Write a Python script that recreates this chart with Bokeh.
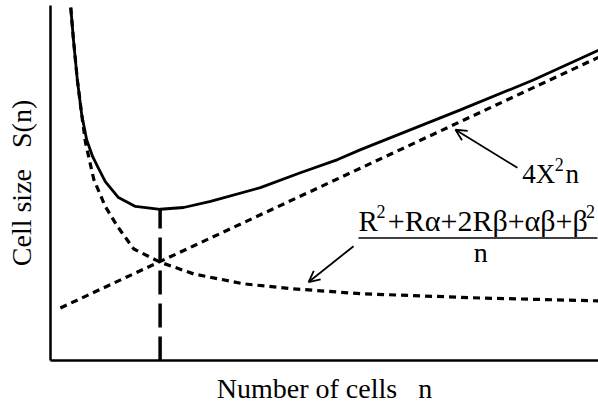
from bokeh.plotting import figure
from bokeh.models import Range1d, FixedTicker, Label, Arrow, OpenHead
from bokeh.embed import file_html
from bokeh.resources import INLINE

# Number of cells n (arbitrary units) and the three cell-size curves
n_total = [0.37, 0.42, 0.49, 0.57, 0.66, 0.77, 0.86, 1.00, 1.24, 1.55, 2.00,
           2.43, 2.92, 3.83, 4.56, 5.24, 5.66, 7.48, 8.81, 10.0]
s_total = [9.94, 9.02, 7.90, 6.92, 6.22, 5.74, 5.46, 5.04, 4.59, 4.34, 4.26,
           4.31, 4.48, 4.87, 5.29, 5.66, 5.94, 7.06, 7.90, 8.74]

n_linear = [0.18, 10.0]
s_linear = [1.48, 8.54]

n_inverse = [0.37, 0.42, 0.49, 0.57, 0.64, 0.79, 1.00, 1.22, 1.52, 2.00, 2.61,
             3.52, 4.43, 5.66, 7.85, 10.0]
s_inverse = [9.94, 9.02, 7.90, 6.92, 6.13, 5.10, 4.34, 3.78, 3.14, 2.77, 2.44,
             2.16, 2.02, 1.88, 1.76, 1.68]

# optimum: minimum of the total curve
i_min = s_total.index(min(s_total))
n_opt, s_opt = n_total[i_min], s_total[i_min]

SERIF = "Liberation Serif"

p = figure(width=598, height=406, x_range=Range1d(0, 10), y_range=Range1d(0, 10),
           output_backend="svg", toolbar_location=None,
           min_border_left=50, min_border_right=0, min_border_top=5,
           min_border_bottom=44)
p.outline_line_color = None
p.xgrid.visible = False
p.ygrid.visible = False
p.background_fill_color = "white"
p.border_fill_color = "white"

for ax in (p.xaxis[0], p.yaxis[0]):
    ax.ticker = FixedTicker(ticks=[])
    ax.major_tick_line_color = None
    ax.minor_tick_line_color = None
    ax.axis_line_width = 2.5
    ax.axis_line_color = "black"
    ax.axis_label_text_font = SERIF
    ax.axis_label_text_font_size = "28px"
    ax.axis_label_text_font_style = "normal"
    ax.axis_label_text_color = "black"

p.xaxis.axis_label = "Number of cells\u00a0\u00a0\u00a0n"
p.yaxis.axis_label = "Cell size\u00a0\u00a0\u00a0S(n)"
p.xaxis.axis_label_standoff = 12
p.yaxis.axis_label_standoff = 14

# curves
p.line(n_total, s_total, line_color="black", line_width=2.8)
p.line(n_linear, s_linear, line_color="black", line_width=3.2, line_dash="7 5")
p.line(n_inverse, s_inverse, line_color="black", line_width=3.2, line_dash="7 5")

# vertical marker at the optimum
p.line([n_opt, n_opt], [0, s_opt], line_color="black", line_width=3.5,
       line_dash="24 9")


def text(x, y, s, size, align="left"):
    p.add_layout(Label(x=x, y=y, text=s, text_font=SERIF,
                       text_font_size=size, text_baseline="alphabetic",
                       text_align=align, text_color="black"))


def arrow(x0, y0, x1, y1, head=True, width=1.8):
    p.add_layout(Arrow(x_start=x0, y_start=y0, x_end=x1, y_end=y1,
                       line_width=width, line_color="black",
                       end=OpenHead(size=11, line_width=1.8, line_color="black")
                       if head else None))


# 4X^2 n  (linear term)
text(8.61, 5.25, "4X", "27px")
text(9.20, 5.51, "2", "18px")
text(9.40, 5.25, "n", "27px")
arrow(8.52, 5.43, 7.39, 6.50)

# (R^2 + R.alpha + 2R.beta + alpha.beta + beta^2) / n  (inverse term)
text(5.62, 3.94, "R", "29px")
text(5.95, 4.19, "2", "18px")
text(7.98, 3.94, "+Rα+2Rβ+αβ+β", "30px", align="center")
text(9.77, 4.19, "2", "18px")
arrow(5.62, 3.45, 9.98, 3.45, head=False, width=1.5)
text(7.85, 3.04, "n", "28px", align="center")
arrow(5.53, 3.22, 4.71, 2.21)

open("out.html", "w").write(file_html(p, INLINE))
